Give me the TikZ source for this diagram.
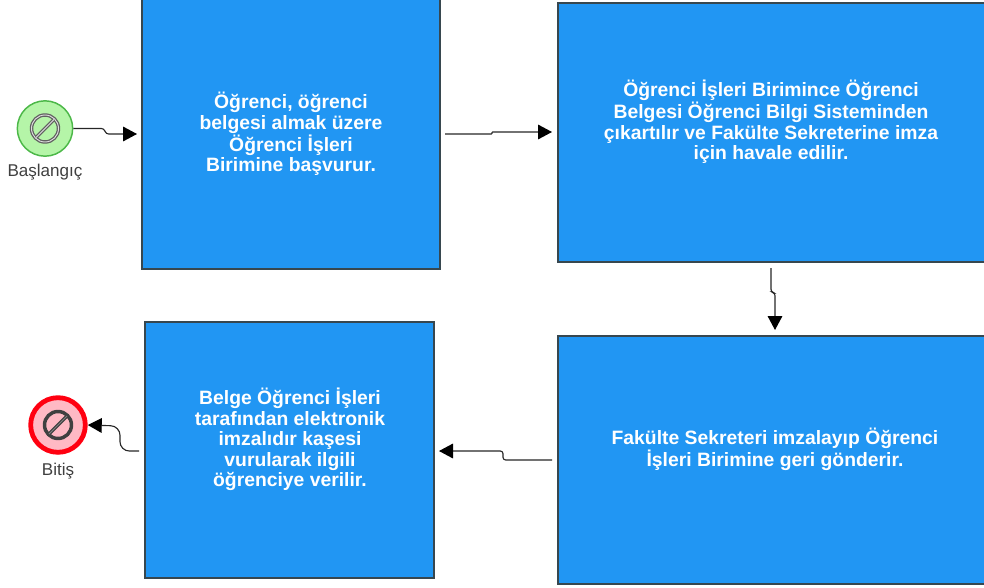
\documentclass[tikz,border=0pt]{standalone}
\usepackage{fontspec}
\setmainfont{Liberation Sans}
\usetikzlibrary{arrows.meta,calc}
\definecolor{boxblue}{HTML}{2196F3}
\definecolor{boxedge}{HTML}{37474F}
\definecolor{startfill}{HTML}{B5F5A8}
\definecolor{startedge}{HTML}{4CB848}
\definecolor{endfill}{HTML}{FFB9C4}
\definecolor{endedge}{HTML}{FF0010}
\definecolor{glyphc}{HTML}{404040}
\tikzset{
  bluebox/.style={draw=boxedge,line width=1pt,fill=boxblue},
  boxtext/.style={text=white,font=\fontsize{14.5}{15.4}\selectfont\bfseries,align=center},
  evlabel/.style={text=black!75,font=\fontsize{12.8}{15}\selectfont},
  conn/.style={line width=0.85pt,black!85,rounded corners=2pt,-{Triangle[length=10.5pt,width=11pt,color=black]}},
  glyphA/.style={draw=gray!75!black,line width=2.6pt},
  glyphB/.style={draw=glyphc,line width=2.6pt},
  glyphcore/.style={draw=white!75!gray,line width=0.7pt},
}
\begin{document}
\begin{tikzpicture}[x=0.75pt,y=-0.75pt]
\useasboundingbox (0,0) rectangle (984,588);
% boxes
\draw[bluebox] (142,-2) rectangle (440,269);
\draw[bluebox] (558,3) rectangle (990,262);
\draw[bluebox] (558,336) rectangle (990,584);
\draw[bluebox] (145,322) rectangle (434,578);
\node[boxtext] (t1) at (291,134) {Öğrenci, öğrenci\\belgesi almak üzere\\Öğrenci İşleri\\Birimine başvurur.};
\node[boxtext] (t2) at (771,122) {Öğrenci İşleri Birimince Öğrenci\\Belgesi Öğrenci Bilgi Sisteminden\\çıkartılır ve Fakülte Sekreterine imza\\için havale edilir.};
\node[boxtext] (t3) at (775,449.5) {Fakülte Sekreteri imzalayıp Öğrenci\\İşleri Birimine geri gönderir.};
\node[boxtext] (t4) at (290,439.5) {Belge Öğrenci İşleri\\tarafından elektronik\\imzalıdır kaşesi\\vurularak ilgili\\öğrenciye verilir.};
% events
\node[circle,draw=startedge,line width=1.1pt,fill=startfill,minimum size=41.5pt,inner sep=0pt] (start) at (45,128.5) {};
\draw[glyphA] (start.center) circle (13.5);
\draw[glyphA] ($(start.center)+(-9,9)$) -- ($(start.center)+(9,-9)$);
\draw[glyphcore] (start.center) circle (13.5);
\draw[glyphcore] ($(start.center)+(-9,9)$) -- ($(start.center)+(9,-9)$);
\node[circle,draw=endedge,line width=3.6pt,fill=endfill,minimum size=41pt,inner sep=0pt] (stop) at (58,425) {};
\draw[glyphB] (stop.center) circle (13.5);
\draw[glyphB] ($(stop.center)+(-9,9)$) -- ($(stop.center)+(9,-9)$);
\draw[glyphcore,draw=gray] ($(stop.center)+(-9,9)$) -- ($(stop.center)+(9,-9)$);
\node[evlabel] (lstart) at (45,172) {Başlangıç};
\node[evlabel] (lstop) at (58,471) {Bitiş};
% connector ends
\coordinate (a1) at (137,134);
\coordinate (b0) at (445,134);
\coordinate (b1) at (552,132);
\coordinate (c0) at (771,268);
\coordinate (c1) at (775,330);
\coordinate (d0) at (552,460);
\coordinate (d1) at (439,451);
\coordinate (e0) at (139,451);
\draw[conn] (start.east) -- (104,128.5) -- (106,134) -- (a1);
\draw[conn,rounded corners=0.5pt] (b0) -- (492,134) -- (492,132) -- (b1);
\draw[conn] (c0) -- (771,292) -- (775,293) -- (c1);
\draw[conn] (d0) -- (503,460) -- (503,451) -- (d1);
\draw[conn,rounded corners=7pt] (e0) -- (120,451) -- (120,426) -- (stop.east);
\end{tikzpicture}
\end{document}
